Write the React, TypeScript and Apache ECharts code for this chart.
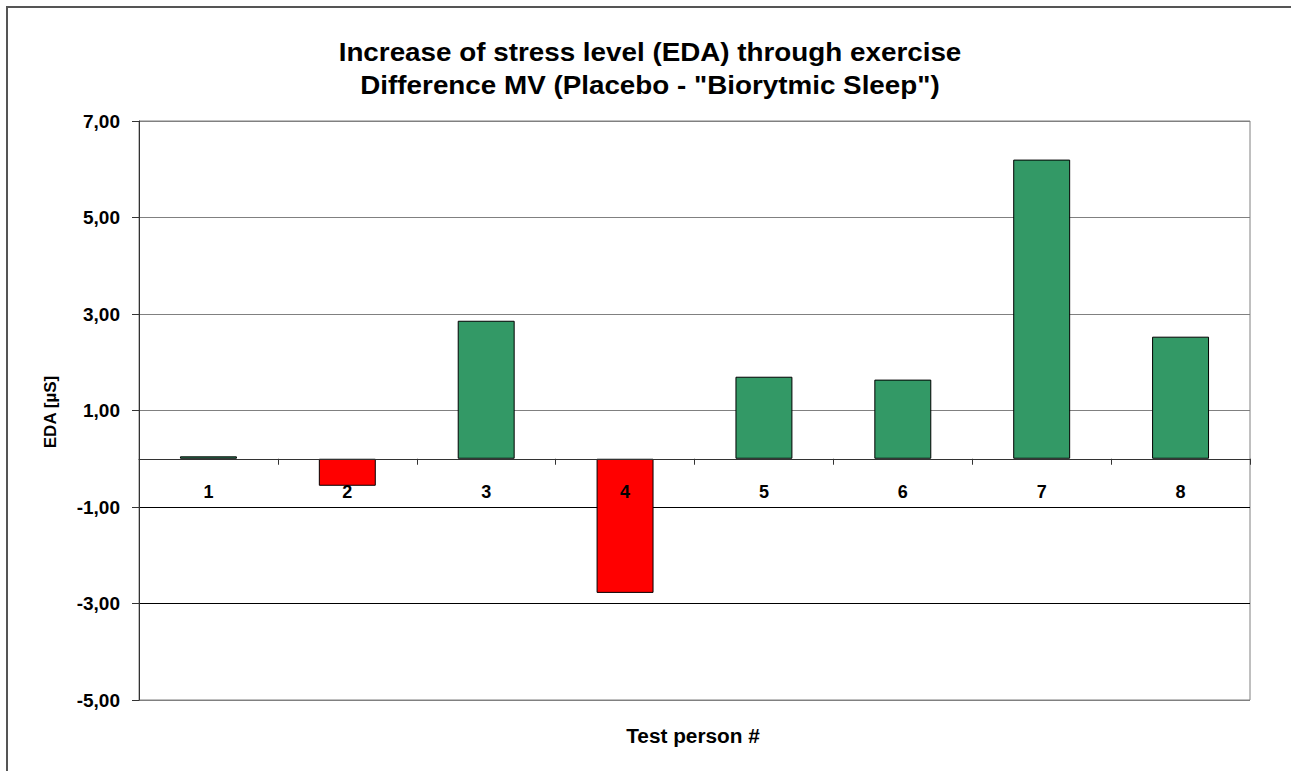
import React, { useEffect, useRef } from "react";
import * as echarts from "echarts";

const categories = ["1", "2", "3", "4", "5", "6", "7", "8"];
const values = [0.05, -0.56, 2.86, -2.78, 1.7, 1.64, 6.2, 2.53];
const yMin = -5;
const yMax = 7;
const yStep = 2;
const titleLines = [
  "Increase of stress level (EDA) through exercise",
  'Difference MV (Placebo - "Biorytmic Sleep")',
];
const xName = "Test person #";
const yName = "EDA [µS]";

const FONT = "'Liberation Sans', Arial, Helvetica, sans-serif";

export default function App() {
  const ref = useRef<HTMLDivElement>(null);
  useEffect(() => {
    if (!ref.current) return;
    const chart = echarts.init(ref.current, null, { renderer: "svg" });
    chart.setOption({
      animation: false,
      backgroundColor: "#ffffff",
      grid: {
        left: 139,
        right: 41,
        top: 121,
        bottom: 71,
        show: true,
        borderColor: "#808080",
        borderWidth: 1,
        backgroundColor: "transparent",
      },
      xAxis: {
        type: "category",
        data: categories,
        z: 5,
        axisLine: { show: true, onZero: true, lineStyle: { color: "#333333", width: 1 } },
        axisTick: { show: true, length: 6, lineStyle: { color: "#333333" } },
        axisLabel: {
          color: "#000",
          fontFamily: FONT,
          fontWeight: "bold",
          fontSize: 18,
          margin: -217,
        },
        splitLine: { show: false },
      },
      yAxis: {
        type: "value",
        min: yMin,
        max: yMax,
        interval: yStep,
        axisLine: { show: true, lineStyle: { color: "#333333", width: 1 } },
        axisTick: { show: true, length: 7, lineStyle: { color: "#333333" } },
        axisLabel: {
          color: "#000",
          fontFamily: FONT,
          fontWeight: "bold",
          fontSize: 19,
          margin: 19,
          formatter: (v: number) => v.toFixed(2).replace(".", ","),
        },
        splitLine: {
          show: true,
          lineStyle: {
            color: ["#808080", "#000000", "#000000", "#808080", "#808080", "#808080", "#808080"],
            width: 1,
          },
        },
      },
      series: [
        {
          type: "bar",
          data: values,
          barWidth: "41%",
          itemStyle: {
            color: (p: any) => (p.value < 0 ? "#ff0000" : "#339966"),
            borderColor: "#000000",
            borderWidth: 1,
          },
        },
      ],
      graphic: [
        {
          type: "rect",
          shape: { x: 7, y: 7, width: 1320, height: 820 },
          style: { fill: "none", stroke: "#555555", lineWidth: 2 },
          silent: true,
        },
        {
          type: "text",
          x: 650,
          y: 52,
          scaleX: 1.07,
          style: {
            text: titleLines[0],
            fill: "#000",
            font: `bold 26px ${FONT}`,
            textAlign: "center",
            textVerticalAlign: "middle",
          },
        },
        {
          type: "text",
          x: 650,
          y: 85,
          scaleX: 1.07,
          style: {
            text: titleLines[1],
            fill: "#000",
            font: `bold 26px ${FONT}`,
            textAlign: "center",
            textVerticalAlign: "middle",
          },
        },
        {
          type: "text",
          x: 693,
          y: 736,
          scaleX: 1.04,
          style: {
            text: xName,
            fill: "#000",
            font: `bold 20px ${FONT}`,
            textAlign: "center",
            textVerticalAlign: "middle",
          },
        },
        {
          type: "text",
          x: 50,
          y: 412,
          rotation: Math.PI / 2,
          style: {
            text: yName,
            fill: "#000",
            font: `bold 17px ${FONT}`,
            textAlign: "center",
            textVerticalAlign: "middle",
          },
        },
      ],
    });
    return () => chart.dispose();
  }, []);
  return (
    <div
      ref={ref}
      style={{ position: "absolute", left: 0, top: 0, width: 1291, height: 771 }}
    />
  );
}
